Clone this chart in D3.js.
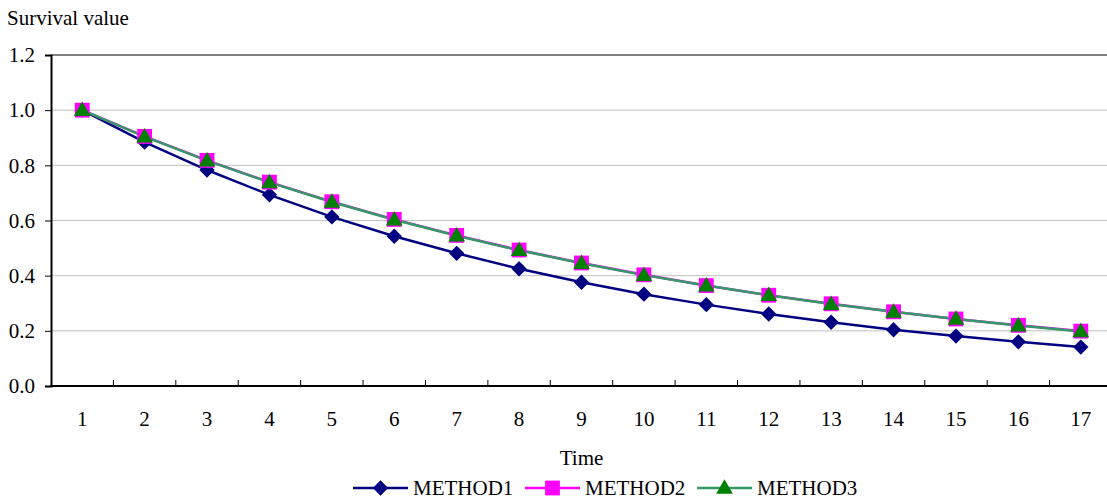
<!DOCTYPE html>
<html>
<head>
<meta charset="utf-8">
<script src="https://cdn.jsdelivr.net/npm/d3@7"></script>
<style>
  html, body { margin: 0; padding: 0; background: #fff; }
  svg { display: block; }
  svg text { font-family: "Liberation Serif", "Times New Roman", serif; font-size: 21px; fill: #000; }
</style>
</head>
<body>
<svg id="chart" width="1107" height="500"></svg>
<script>
// Survival curves over time for three estimation methods
const times = ["1","2","3","4","5","6","7","8","9","10","11","12","13","14","15","16","17"];
const method1 = [1.000, 0.884, 0.783, 0.693, 0.613, 0.543, 0.481, 0.425, 0.376, 0.333, 0.295, 0.261, 0.231, 0.204, 0.181, 0.160, 0.141];
const method2 = [1.000, 0.905, 0.818, 0.739, 0.668, 0.604, 0.546, 0.493, 0.446, 0.403, 0.364, 0.329, 0.298, 0.269, 0.243, 0.220, 0.199];
const method3 = [1.000, 0.904, 0.817, 0.738, 0.667, 0.603, 0.545, 0.492, 0.445, 0.402, 0.364, 0.329, 0.297, 0.269, 0.243, 0.219, 0.198];
const yTicks = [0.0, 0.2, 0.4, 0.6, 0.8, 1.0, 1.2];

const seriesNames = ["METHOD1", "METHOD2", "METHOD3"];
const seriesValues = [method1, method2, method3];
const lineColors = ["#000080", "#FF00FF", "#339966"];
const markColors = ["#000080", "#FF00FF", "#008000"];
const markTypes = [d3.symbolDiamond2, d3.symbolSquare2, d3.symbolTriangle2];
const markSizes = [150, 280, 200];

const svg = d3.select("#chart");
const plotLeft = 51, plotRight = 1112, plotTop = 55, plotBottom = 386;

const x = d3.scaleBand().domain(times).range([plotLeft, plotRight]);
const y = d3.scaleLinear().domain([0, 1.2]).range([plotBottom, plotTop]);
const cx = d => x(d) + x.bandwidth() / 2;

// Horizontal gridlines
svg.append("g")
  .selectAll("line")
  .data(yTicks.filter(t => t > 0 && t < 1.2))
  .join("line")
  .attr("x1", plotLeft).attr("x2", plotRight)
  .attr("y1", d => y(d)).attr("y2", d => y(d))
  .attr("stroke", "#c0c0c0").attr("stroke-width", 1);

// Plot area top border
svg.append("line")
  .attr("x1", plotLeft).attr("x2", plotRight)
  .attr("y1", y(1.2)).attr("y2", y(1.2))
  .attr("stroke", "#808080").attr("stroke-width", 2);

// Y axis
const yAxis = svg.append("g")
  .attr("transform", `translate(${plotLeft},0)`)
  .call(d3.axisLeft(y).tickValues(yTicks).tickFormat(d3.format(".1f")).tickSize(6).tickPadding(10));
yAxis.attr("font-family", null).attr("font-size", null);
yAxis.select(".domain").attr("stroke", "#000").attr("stroke-width", 2);
yAxis.selectAll(".tick line").attr("stroke", "#000").attr("stroke-width", 1);
yAxis.selectAll(".tick text").attr("fill", null);

// X axis: ticks sit between categories, pointing inward
const bounds = times.slice(1).map(t => x(t));
svg.append("g")
  .selectAll("line")
  .data(bounds)
  .join("line")
  .attr("x1", d => d).attr("x2", d => d)
  .attr("y1", plotBottom).attr("y2", plotBottom - 6)
  .attr("stroke", "#000").attr("stroke-width", 1);
svg.append("line")
  .attr("x1", plotLeft - 1).attr("x2", plotRight)
  .attr("y1", plotBottom).attr("y2", plotBottom)
  .attr("stroke", "#000").attr("stroke-width", 2);
svg.append("g")
  .selectAll("text")
  .data(times)
  .join("text")
  .attr("x", d => cx(d)).attr("y", 426)
  .attr("text-anchor", "middle")
  .text(d => d);

// Axis titles
svg.append("text").attr("x", 7).attr("y", 25).text("Survival value");
svg.append("text").attr("x", cx("9")).attr("y", 465)
  .attr("text-anchor", "middle").text("Time");

// Series lines
const line = d3.line().x((d, i) => cx(times[i])).y(d => y(d));
seriesValues.forEach((vals, s) => {
  svg.append("path")
    .datum(vals)
    .attr("d", line)
    .attr("fill", "none")
    .attr("stroke", lineColors[s])
    .attr("stroke-width", 2.5);
});

// Series markers
seriesValues.forEach((vals, s) => {
  svg.append("g")
    .selectAll("path")
    .data(vals)
    .join("path")
    .attr("transform", (d, i) => `translate(${cx(times[i])},${y(d) + (s === 2 ? 1 : 0)})`)
    .attr("d", d3.symbol().type(markTypes[s]).size(markSizes[s]))
    .attr("fill", markColors[s]);
});

// Legend
const legendX = [353, 525, 697];
const legend = svg.append("g");
seriesNames.forEach((name, s) => {
  const g = legend.append("g").attr("transform", `translate(${legendX[s]},488)`);
  g.append("line").attr("x1", 0).attr("x2", 55).attr("y1", 0).attr("y2", 0)
    .attr("stroke", lineColors[s]).attr("stroke-width", 2.5);
  g.append("path").attr("transform", `translate(27.5,${s === 2 ? 1 : 0})`)
    .attr("d", d3.symbol().type(markTypes[s]).size(markSizes[s]))
    .attr("fill", markColors[s]);
  g.append("text").attr("x", 60).attr("y", 7).text(name);
});
</script>
</body>
</html>
